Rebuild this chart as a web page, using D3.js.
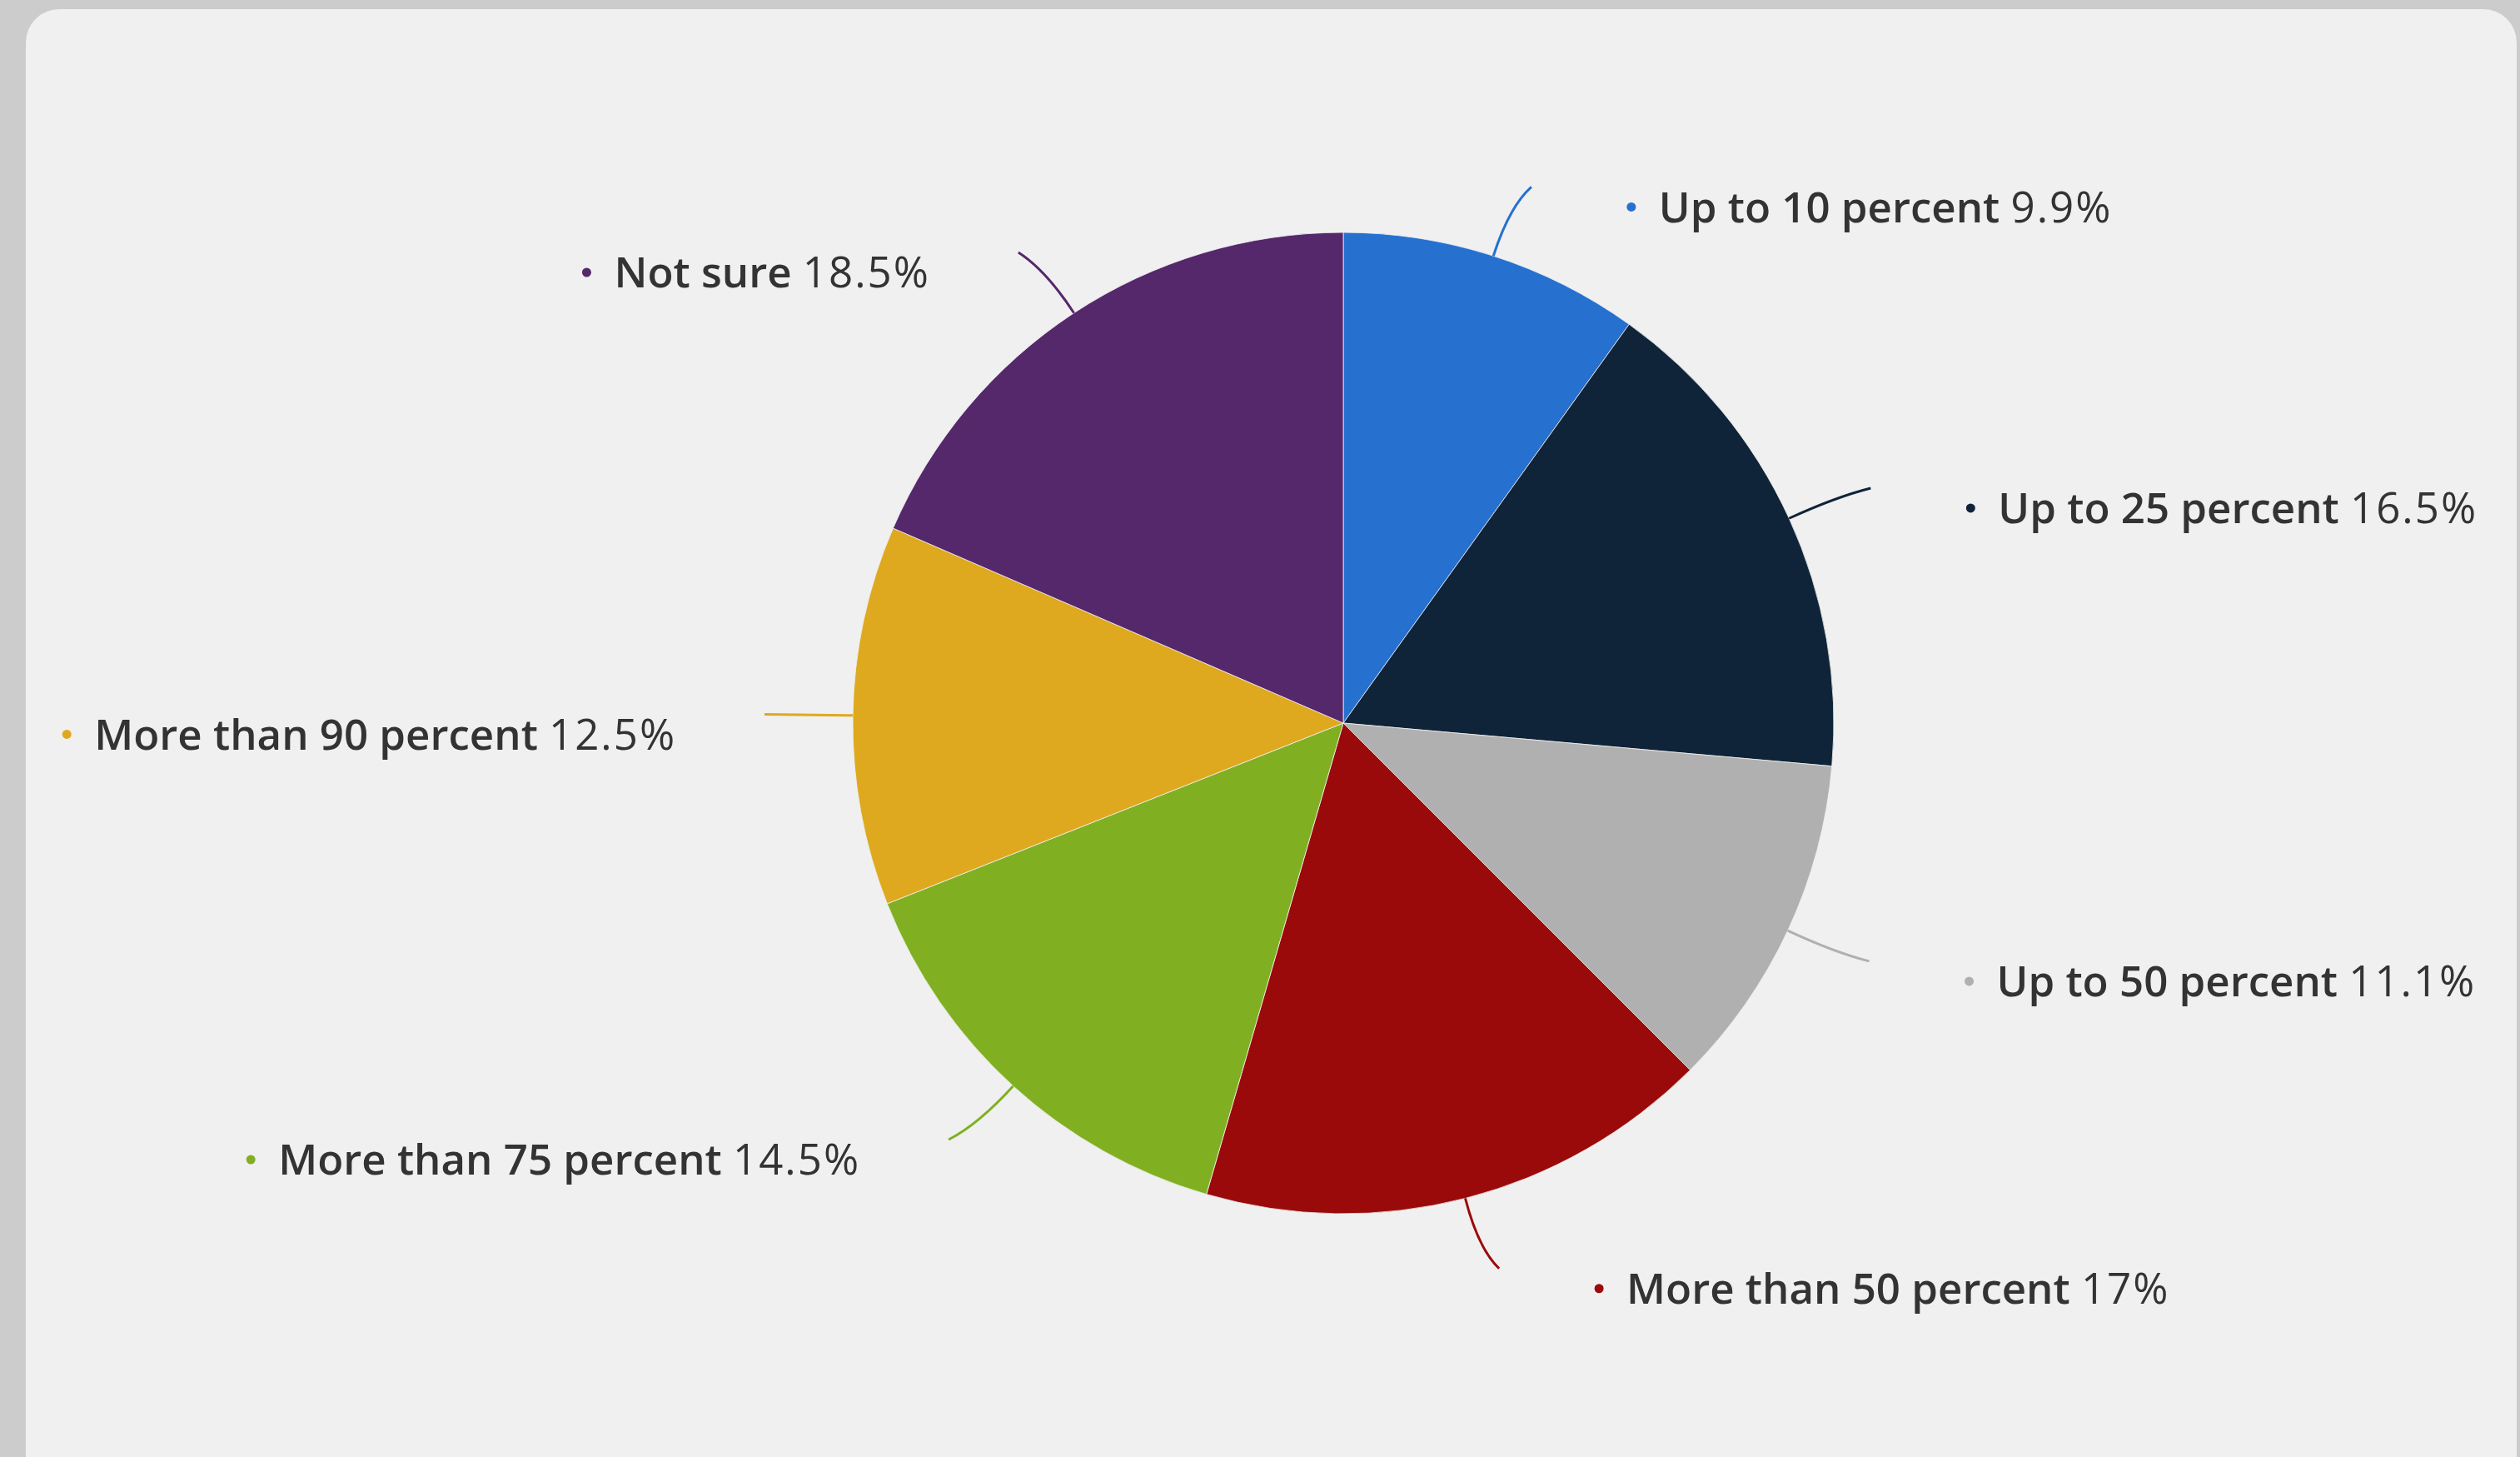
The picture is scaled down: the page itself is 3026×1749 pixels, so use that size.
<!DOCTYPE html>
<html>
<head>
<meta charset="utf-8">
<script src="https://cdn.jsdelivr.net/npm/d3@7"></script>
<style>
  html, body { margin: 0; padding: 0; background: #cccccc; overflow: hidden; }
  svg { display: block; }
</style>
</head>
<body>
<svg id="chart" width="3026" height="1749"></svg>
<script>
// ---- data ----
const categories = ["Up to 10 percent", "Up to 25 percent", "Up to 50 percent", "More than 50 percent", "More than 75 percent", "More than 90 percent", "Not sure"];
const values = [9.9, 16.5, 11.1, 17, 14.5, 12.5, 18.5];
const valueLabels = ["9.9%", "16.5%", "11.1%", "17%", "14.5%", "12.5%", "18.5%"];
const colors = ["#2670d0", "#0f2439", "#b0b0b0", "#9b0a0a", "#80b022", "#dea91f", "#55276b"];

// ---- layout ----
const W = 3026, H = 1749;
const cx = 1613, cy = 868, R = 589;

const svg = d3.select("#chart");

// card
svg.append("rect").attr("x", 31).attr("y", 11).attr("width", 3022 - 31).attr("height", 1800)
  .attr("rx", 40).attr("ry", 40).attr("fill", "#f0f0f0");

const g = svg.append("g").attr("transform", `translate(${cx},${cy})`);

const pie = d3.pie().sort(null).value(d => d.v);
const data = pie(categories.map((c, i) => ({ c, v: values[i], lab: valueLabels[i], col: colors[i] })));
const arc = d3.arc().innerRadius(0).outerRadius(R);

g.selectAll("path.slice").data(data).enter().append("path")
  .attr("class", "slice")
  .attr("d", arc)
  .attr("fill", d => d.data.col)
  .attr("stroke", "#f0f0f0")
  .attr("stroke-width", 0.8)
  .attr("stroke-linejoin", "round");

function pt(a, r) { return [r * Math.sin(a), -r * Math.cos(a)]; }

const labelFont = "'Open Sans', sans-serif";
const fs = 51;

data.forEach(d => {
  const mid = (d.startAngle + d.endAngle) / 2;
  const side = Math.sin(mid) >= 0 ? 1 : -1;
  const p0 = pt(mid, R);
  const pc = pt(mid, R + 62);
  const pe = pt(mid, R + 87);
  pe[0] += side * 19;

  g.append("path")
    .attr("d", `M${p0[0]},${p0[1]} Q${pc[0]},${pc[1]} ${pe[0]},${pe[1]}`)
    .attr("fill", "none")
    .attr("stroke", d.data.col)
    .attr("stroke-width", 3);

  const ly = pe[1] + 24;
  const t = g.append("text")
    .attr("y", ly)
    .attr("dy", "0.36em")
    .style("font-family", labelFont)
    .style("font-size", fs + "px")
    .attr("fill", "#333333");
  t.append("tspan").attr("font-weight", 600).text(d.data.c + " ");
  t.append("tspan").attr("font-weight", 400).attr("letter-spacing", 2).text(d.data.lab);

  let dotX;
  if (side > 0) {
    dotX = pe[0] + 120;
    t.attr("x", dotX + 33).attr("text-anchor", "start");
  } else {
    const endX = pe[0] - 106;
    t.attr("x", endX).attr("text-anchor", "end");
    const w = t.node().getComputedTextLength();
    dotX = endX - w - 33;
  }
  g.append("circle").attr("cx", dotX).attr("cy", ly).attr("r", 5.5).attr("fill", d.data.col);
});
</script>
</body>
</html>
